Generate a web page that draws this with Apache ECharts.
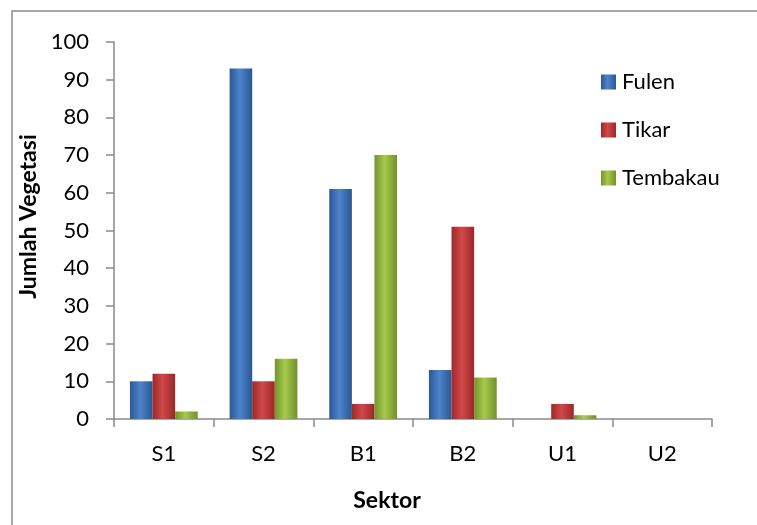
<!DOCTYPE html>
<html>
<head>
<meta charset="utf-8">
<script src="https://cdn.jsdelivr.net/npm/echarts@6/dist/echarts.min.js"></script>
<style>
html, body { margin: 0; padding: 0; background: #fff; }
#chart { width: 757px; height: 525px; }
</style>
</head>
<body>
<div id="chart"></div>
<script>
var categories = ["S1", "S2", "B1", "B2", "U1", "U2"];
var fulen = [10, 93, 61, 13, 0, 0];
var tikar = [12, 10, 4, 51, 4, 0];
var tembakau = [2, 16, 70, 11, 1, 0];

function grad(c1, c2, c3) {
    return new echarts.graphic.LinearGradient(0, 0, 1, 0, [
        { offset: 0, color: c1 },
        { offset: 0.45, color: c2 },
        { offset: 1, color: c3 }
    ]);
}

var font = "Lato, 'Open Sans', sans-serif";
var myChart = echarts.init(document.getElementById('chart'));

var option = {
    animation: false,
    textStyle: { fontFamily: font },
    graphic: [{
        type: 'rect',
        shape: { x: 12, y: 11, width: 800, height: 600 },
        style: { fill: 'none', stroke: '#8c8c8c', lineWidth: 1.5 },
        silent: true
    }],
    legend: {
        orient: 'vertical',
        left: 596,
        top: 66,
        itemWidth: 15,
        itemHeight: 15,
        itemGap: 26,
        icon: 'rect',
        textStyle: { fontSize: 22, color: '#000', fontFamily: font, padding: [0, 0, 0, 1] },
        data: ['Fulen', 'Tikar', 'Tembakau']
    },
    grid: { left: 114, right: 45, top: 42, bottom: 106 },
    xAxis: {
        type: 'category',
        data: categories,
        name: 'Sektor',
        nameLocation: 'middle',
        nameGap: 70,
        nameTextStyle: { fontSize: 23, fontWeight: 'bold', color: '#000', fontFamily: font, padding: [0, 52, 0, 0] },
        axisLine: { lineStyle: { color: '#8a8a8a', width: 1.5 } },
        axisTick: { show: true, length: 8, lineStyle: { color: '#8a8a8a', width: 1.5 } },
        axisLabel: { fontSize: 22, color: '#000', margin: 24, fontFamily: font }
    },
    yAxis: {
        type: 'value',
        min: 0,
        max: 100,
        interval: 10,
        name: 'Jumlah Vegetasi',
        nameLocation: 'middle',
        nameRotate: 90,
        nameGap: 68,
        nameTextStyle: { fontSize: 23, fontWeight: 'bold', color: '#000', fontFamily: font, padding: [0, 0, 0, 28] },
        axisLine: { show: true, lineStyle: { color: '#8a8a8a', width: 1.5 } },
        axisTick: { show: true, length: 8, lineStyle: { color: '#8a8a8a', width: 1.5 } },
        splitLine: { show: false },
        axisLabel: { fontSize: 22, color: '#000', margin: 25, fontFamily: font }
    },
    series: [{
        name: 'Fulen',
        type: 'bar',
        data: fulen,
        barGap: '0%',
        barCategoryGap: '32%',
        itemStyle: { color: grad('#2b5896', '#4d84cb', '#2a5792') }
    }, {
        name: 'Tikar',
        type: 'bar',
        data: tikar,
        itemStyle: { color: grad('#a02828', '#d04849', '#9b2727') }
    }, {
        name: 'Tembakau',
        type: 'bar',
        data: tembakau,
        itemStyle: { color: grad('#74942c', '#a6ca4a', '#72902c') }
    }]
};
myChart.setOption(option);
</script>
</body>
</html>
